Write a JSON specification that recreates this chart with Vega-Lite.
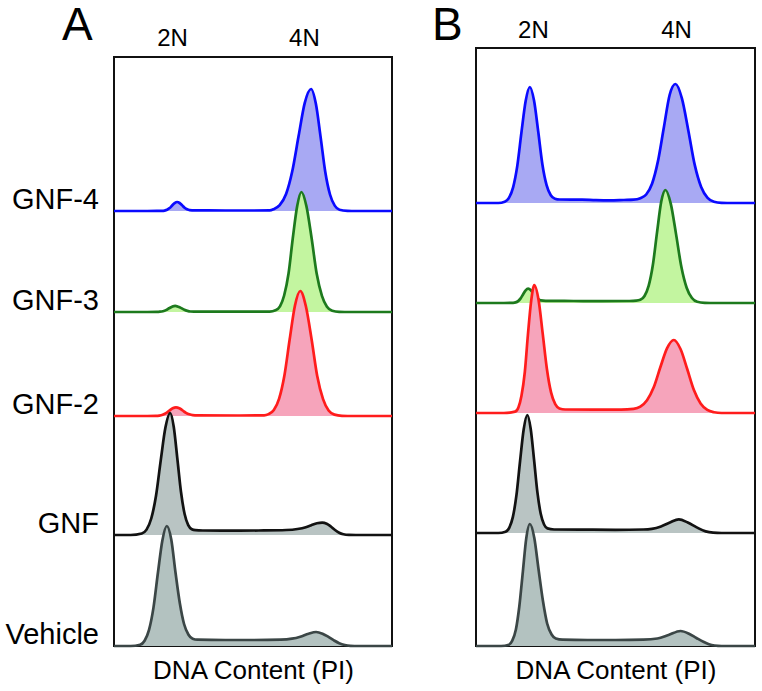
{
"$schema": "https://vega.github.io/schema/vega-lite/v6.json",
"background": "white",
"padding": {"left": 4, "top": 2, "right": 4, "bottom": 5},
"config": {"view": {"stroke": "#111111", "strokeWidth": 2}, "font": "Liberation Sans", "text": {"font": "Liberation Sans"}},
"datasets": {
"names": [{"s": "GNF-4"}, {"s": "GNF-3"}, {"s": "GNF-2"}, {"s": "GNF"}, {"s": "Vehicle"}],
"curves": [
{"p":"A","s":"GNF-4","x":0,"n":0},{"p":"A","s":"GNF-4","x":120,"n":0},{"p":"A","s":"GNF-4","x":173,"n":0.1},{"p":"A","s":"GNF-4","x":182,"n":0.4},{"p":"A","s":"GNF-4","x":191,"n":1.2},{"p":"A","s":"GNF-4","x":200,"n":2.9},{"p":"A","s":"GNF-4","x":209,"n":5.5},{"p":"A","s":"GNF-4","x":218,"n":7.9},{"p":"A","s":"GNF-4","x":227,"n":9},{"p":"A","s":"GNF-4","x":236,"n":8},{"p":"A","s":"GNF-4","x":245,"n":5.7},{"p":"A","s":"GNF-4","x":254,"n":3.3},{"p":"A","s":"GNF-4","x":263,"n":1.7},{"p":"A","s":"GNF-4","x":272,"n":0.9},{"p":"A","s":"GNF-4","x":290,"n":0.6},{"p":"A","s":"GNF-4","x":400,"n":0.5},{"p":"A","s":"GNF-4","x":500,"n":0.5},{"p":"A","s":"GNF-4","x":560,"n":0.6},{"p":"A","s":"GNF-4","x":574,"n":1.8},{"p":"A","s":"GNF-4","x":596,"n":5.9},{"p":"A","s":"GNF-4","x":619,"n":17},{"p":"A","s":"GNF-4","x":641,"n":39.5},{"p":"A","s":"GNF-4","x":664,"n":74.9},{"p":"A","s":"GNF-4","x":686,"n":107.9},{"p":"A","s":"GNF-4","x":709,"n":122},{"p":"A","s":"GNF-4","x":726,"n":107.4},{"p":"A","s":"GNF-4","x":743,"n":74.4},{"p":"A","s":"GNF-4","x":760,"n":39},{"p":"A","s":"GNF-4","x":777,"n":16.5},{"p":"A","s":"GNF-4","x":794,"n":5.4},{"p":"A","s":"GNF-4","x":811,"n":1.3},{"p":"A","s":"GNF-4","x":840,"n":0.2},{"p":"A","s":"GNF-4","x":870,"n":0},{"p":"A","s":"GNF-4","x":1000,"n":0},
{"p":"A","s":"GNF-3","x":0,"n":0},{"p":"A","s":"GNF-3","x":120,"n":0},{"p":"A","s":"GNF-3","x":154,"n":0.1},{"p":"A","s":"GNF-3","x":165,"n":0.3},{"p":"A","s":"GNF-3","x":176,"n":0.8},{"p":"A","s":"GNF-3","x":187,"n":1.9},{"p":"A","s":"GNF-3","x":198,"n":3.7},{"p":"A","s":"GNF-3","x":209,"n":5.3},{"p":"A","s":"GNF-3","x":220,"n":6.2},{"p":"A","s":"GNF-3","x":231,"n":5.3},{"p":"A","s":"GNF-3","x":242,"n":3.9},{"p":"A","s":"GNF-3","x":253,"n":2.2},{"p":"A","s":"GNF-3","x":264,"n":1.1},{"p":"A","s":"GNF-3","x":275,"n":0.5},{"p":"A","s":"GNF-3","x":300,"n":0.3},{"p":"A","s":"GNF-3","x":450,"n":0.3},{"p":"A","s":"GNF-3","x":560,"n":0.4},{"p":"A","s":"GNF-3","x":581,"n":1.7},{"p":"A","s":"GNF-3","x":597,"n":5.6},{"p":"A","s":"GNF-3","x":612,"n":16.5},{"p":"A","s":"GNF-3","x":628,"n":38.7},{"p":"A","s":"GNF-3","x":643,"n":73.5},{"p":"A","s":"GNF-3","x":659,"n":106},{"p":"A","s":"GNF-3","x":674,"n":120},{"p":"A","s":"GNF-3","x":692,"n":106},{"p":"A","s":"GNF-3","x":711,"n":73.5},{"p":"A","s":"GNF-3","x":729,"n":38.4},{"p":"A","s":"GNF-3","x":748,"n":16.2},{"p":"A","s":"GNF-3","x":766,"n":5.3},{"p":"A","s":"GNF-3","x":785,"n":1.3},{"p":"A","s":"GNF-3","x":810,"n":0.2},{"p":"A","s":"GNF-3","x":850,"n":0},{"p":"A","s":"GNF-3","x":1000,"n":0},
{"p":"A","s":"GNF-2","x":0,"n":0},{"p":"A","s":"GNF-2","x":120,"n":0},{"p":"A","s":"GNF-2","x":151,"n":0.1},{"p":"A","s":"GNF-2","x":163,"n":0.4},{"p":"A","s":"GNF-2","x":175,"n":1.2},{"p":"A","s":"GNF-2","x":187,"n":2.8},{"p":"A","s":"GNF-2","x":199,"n":5.3},{"p":"A","s":"GNF-2","x":211,"n":7.7},{"p":"A","s":"GNF-2","x":223,"n":8.7},{"p":"A","s":"GNF-2","x":235,"n":7.8},{"p":"A","s":"GNF-2","x":247,"n":5.5},{"p":"A","s":"GNF-2","x":259,"n":3.2},{"p":"A","s":"GNF-2","x":271,"n":1.7},{"p":"A","s":"GNF-2","x":283,"n":0.9},{"p":"A","s":"GNF-2","x":300,"n":0.6},{"p":"A","s":"GNF-2","x":450,"n":0.5},{"p":"A","s":"GNF-2","x":540,"n":0.6},{"p":"A","s":"GNF-2","x":556,"n":1.9},{"p":"A","s":"GNF-2","x":575,"n":6},{"p":"A","s":"GNF-2","x":594,"n":17.4},{"p":"A","s":"GNF-2","x":613,"n":40.5},{"p":"A","s":"GNF-2","x":632,"n":76.7},{"p":"A","s":"GNF-2","x":651,"n":110.5},{"p":"A","s":"GNF-2","x":670,"n":125},{"p":"A","s":"GNF-2","x":690,"n":110},{"p":"A","s":"GNF-2","x":711,"n":76.3},{"p":"A","s":"GNF-2","x":731,"n":40},{"p":"A","s":"GNF-2","x":752,"n":16.9},{"p":"A","s":"GNF-2","x":772,"n":5.5},{"p":"A","s":"GNF-2","x":793,"n":1.4},{"p":"A","s":"GNF-2","x":820,"n":0.2},{"p":"A","s":"GNF-2","x":860,"n":0},{"p":"A","s":"GNF-2","x":1000,"n":0},
{"p":"A","s":"GNF","x":0,"n":0},{"p":"A","s":"GNF","x":60,"n":0},{"p":"A","s":"GNF","x":100,"n":1.5},{"p":"A","s":"GNF","x":117,"n":5.4},{"p":"A","s":"GNF","x":134,"n":16.5},{"p":"A","s":"GNF","x":151,"n":39},{"p":"A","s":"GNF","x":168,"n":74.4},{"p":"A","s":"GNF","x":185,"n":107.4},{"p":"A","s":"GNF","x":202,"n":122},{"p":"A","s":"GNF","x":215,"n":108},{"p":"A","s":"GNF","x":228,"n":76},{"p":"A","s":"GNF","x":241,"n":43},{"p":"A","s":"GNF","x":254,"n":21},{"p":"A","s":"GNF","x":267,"n":9.9},{"p":"A","s":"GNF","x":280,"n":5.8},{"p":"A","s":"GNF","x":293,"n":4.8},{"p":"A","s":"GNF","x":320,"n":4.5},{"p":"A","s":"GNF","x":420,"n":4.3},{"p":"A","s":"GNF","x":520,"n":4.5},{"p":"A","s":"GNF","x":620,"n":5},{"p":"A","s":"GNF","x":660,"n":6},{"p":"A","s":"GNF","x":690,"n":7.8},{"p":"A","s":"GNF","x":710,"n":9.8},{"p":"A","s":"GNF","x":730,"n":11.7},{"p":"A","s":"GNF","x":749,"n":12.4},{"p":"A","s":"GNF","x":765,"n":11.3},{"p":"A","s":"GNF","x":780,"n":8.5},{"p":"A","s":"GNF","x":795,"n":5},{"p":"A","s":"GNF","x":810,"n":2.3},{"p":"A","s":"GNF","x":825,"n":0.8},{"p":"A","s":"GNF","x":845,"n":0.1},{"p":"A","s":"GNF","x":870,"n":0},{"p":"A","s":"GNF","x":1000,"n":0},
{"p":"A","s":"Vehicle","x":0,"n":0},{"p":"A","s":"Vehicle","x":60,"n":0},{"p":"A","s":"Vehicle","x":94,"n":1.3},{"p":"A","s":"Vehicle","x":110,"n":5.3},{"p":"A","s":"Vehicle","x":126,"n":16.2},{"p":"A","s":"Vehicle","x":142,"n":38.4},{"p":"A","s":"Vehicle","x":158,"n":73.2},{"p":"A","s":"Vehicle","x":174,"n":105.6},{"p":"A","s":"Vehicle","x":190,"n":120},{"p":"A","s":"Vehicle","x":206,"n":106.5},{"p":"A","s":"Vehicle","x":221,"n":74},{"p":"A","s":"Vehicle","x":237,"n":42.5},{"p":"A","s":"Vehicle","x":252,"n":22},{"p":"A","s":"Vehicle","x":268,"n":11.3},{"p":"A","s":"Vehicle","x":283,"n":7.3},{"p":"A","s":"Vehicle","x":300,"n":6.3},{"p":"A","s":"Vehicle","x":400,"n":6},{"p":"A","s":"Vehicle","x":500,"n":6},{"p":"A","s":"Vehicle","x":600,"n":6.3},{"p":"A","s":"Vehicle","x":640,"n":7.3},{"p":"A","s":"Vehicle","x":670,"n":9.3},{"p":"A","s":"Vehicle","x":700,"n":12.3},{"p":"A","s":"Vehicle","x":727,"n":14},{"p":"A","s":"Vehicle","x":750,"n":12.3},{"p":"A","s":"Vehicle","x":770,"n":9.3},{"p":"A","s":"Vehicle","x":790,"n":5.8},{"p":"A","s":"Vehicle","x":810,"n":2.8},{"p":"A","s":"Vehicle","x":830,"n":1},{"p":"A","s":"Vehicle","x":850,"n":0.2},{"p":"A","s":"Vehicle","x":880,"n":0},{"p":"A","s":"Vehicle","x":1000,"n":0},
{"p":"B","s":"GNF-4","x":0,"n":0},{"p":"B","s":"GNF-4","x":80,"n":0},{"p":"B","s":"GNF-4","x":103,"n":1.3},{"p":"B","s":"GNF-4","x":118,"n":5.1},{"p":"B","s":"GNF-4","x":133,"n":15.7},{"p":"B","s":"GNF-4","x":148,"n":37.1},{"p":"B","s":"GNF-4","x":163,"n":70.8},{"p":"B","s":"GNF-4","x":178,"n":102},{"p":"B","s":"GNF-4","x":193,"n":116},{"p":"B","s":"GNF-4","x":208,"n":102.4},{"p":"B","s":"GNF-4","x":223,"n":71.5},{"p":"B","s":"GNF-4","x":238,"n":38.5},{"p":"B","s":"GNF-4","x":253,"n":17.8},{"p":"B","s":"GNF-4","x":268,"n":7.7},{"p":"B","s":"GNF-4","x":283,"n":4.3},{"p":"B","s":"GNF-4","x":300,"n":3.5},{"p":"B","s":"GNF-4","x":380,"n":3.3},{"p":"B","s":"GNF-4","x":430,"n":2.8},{"p":"B","s":"GNF-4","x":480,"n":2.6},{"p":"B","s":"GNF-4","x":530,"n":3},{"p":"B","s":"GNF-4","x":565,"n":3.3},{"p":"B","s":"GNF-4","x":589,"n":4.8},{"p":"B","s":"GNF-4","x":610,"n":8.5},{"p":"B","s":"GNF-4","x":631,"n":19.3},{"p":"B","s":"GNF-4","x":652,"n":41.6},{"p":"B","s":"GNF-4","x":673,"n":75},{"p":"B","s":"GNF-4","x":694,"n":108},{"p":"B","s":"GNF-4","x":715,"n":119},{"p":"B","s":"GNF-4","x":738,"n":104.7},{"p":"B","s":"GNF-4","x":761,"n":72.6},{"p":"B","s":"GNF-4","x":784,"n":38.1},{"p":"B","s":"GNF-4","x":807,"n":16.1},{"p":"B","s":"GNF-4","x":830,"n":5.2},{"p":"B","s":"GNF-4","x":853,"n":1.3},{"p":"B","s":"GNF-4","x":880,"n":0.2},{"p":"B","s":"GNF-4","x":920,"n":0},{"p":"B","s":"GNF-4","x":1000,"n":0},
{"p":"B","s":"GNF-3","x":0,"n":0},{"p":"B","s":"GNF-3","x":100,"n":0},{"p":"B","s":"GNF-3","x":133,"n":0.2},{"p":"B","s":"GNF-3","x":142,"n":0.6},{"p":"B","s":"GNF-3","x":151,"n":1.9},{"p":"B","s":"GNF-3","x":160,"n":4.6},{"p":"B","s":"GNF-3","x":169,"n":8.8},{"p":"B","s":"GNF-3","x":178,"n":12.7},{"p":"B","s":"GNF-3","x":187,"n":14.4},{"p":"B","s":"GNF-3","x":196,"n":13},{"p":"B","s":"GNF-3","x":205,"n":9.6},{"p":"B","s":"GNF-3","x":214,"n":6.2},{"p":"B","s":"GNF-3","x":223,"n":3.9},{"p":"B","s":"GNF-3","x":232,"n":2.6},{"p":"B","s":"GNF-3","x":250,"n":2.2},{"p":"B","s":"GNF-3","x":350,"n":2},{"p":"B","s":"GNF-3","x":450,"n":1.8},{"p":"B","s":"GNF-3","x":550,"n":2},{"p":"B","s":"GNF-3","x":574,"n":2.3},{"p":"B","s":"GNF-3","x":589,"n":3.2},{"p":"B","s":"GNF-3","x":604,"n":7},{"p":"B","s":"GNF-3","x":619,"n":17.3},{"p":"B","s":"GNF-3","x":634,"n":38.2},{"p":"B","s":"GNF-3","x":649,"n":70.9},{"p":"B","s":"GNF-3","x":664,"n":101.4},{"p":"B","s":"GNF-3","x":679,"n":113},{"p":"B","s":"GNF-3","x":698,"n":99.4},{"p":"B","s":"GNF-3","x":717,"n":68.9},{"p":"B","s":"GNF-3","x":736,"n":36.2},{"p":"B","s":"GNF-3","x":755,"n":15.3},{"p":"B","s":"GNF-3","x":774,"n":5},{"p":"B","s":"GNF-3","x":793,"n":1.2},{"p":"B","s":"GNF-3","x":820,"n":0.2},{"p":"B","s":"GNF-3","x":860,"n":0},{"p":"B","s":"GNF-3","x":1000,"n":0},
{"p":"B","s":"GNF-2","x":0,"n":0},{"p":"B","s":"GNF-2","x":100,"n":0},{"p":"B","s":"GNF-2","x":140,"n":1.4},{"p":"B","s":"GNF-2","x":152,"n":5.6},{"p":"B","s":"GNF-2","x":163,"n":17.3},{"p":"B","s":"GNF-2","x":175,"n":41},{"p":"B","s":"GNF-2","x":186,"n":78},{"p":"B","s":"GNF-2","x":198,"n":112.6},{"p":"B","s":"GNF-2","x":209,"n":128},{"p":"B","s":"GNF-2","x":224,"n":113.4},{"p":"B","s":"GNF-2","x":239,"n":79.6},{"p":"B","s":"GNF-2","x":254,"n":44.3},{"p":"B","s":"GNF-2","x":269,"n":20.6},{"p":"B","s":"GNF-2","x":284,"n":8.9},{"p":"B","s":"GNF-2","x":299,"n":4.6},{"p":"B","s":"GNF-2","x":320,"n":3.5},{"p":"B","s":"GNF-2","x":420,"n":3.3},{"p":"B","s":"GNF-2","x":520,"n":3.3},{"p":"B","s":"GNF-2","x":565,"n":4.1},{"p":"B","s":"GNF-2","x":589,"n":6.4},{"p":"B","s":"GNF-2","x":613,"n":12.8},{"p":"B","s":"GNF-2","x":637,"n":25.7},{"p":"B","s":"GNF-2","x":661,"n":46},{"p":"B","s":"GNF-2","x":685,"n":64.9},{"p":"B","s":"GNF-2","x":709,"n":73},{"p":"B","s":"GNF-2","x":733,"n":64},{"p":"B","s":"GNF-2","x":757,"n":44},{"p":"B","s":"GNF-2","x":781,"n":23},{"p":"B","s":"GNF-2","x":805,"n":9.6},{"p":"B","s":"GNF-2","x":829,"n":3.1},{"p":"B","s":"GNF-2","x":853,"n":0.8},{"p":"B","s":"GNF-2","x":880,"n":0},{"p":"B","s":"GNF-2","x":1000,"n":0},
{"p":"B","s":"GNF","x":0,"n":0},{"p":"B","s":"GNF","x":80,"n":0},{"p":"B","s":"GNF","x":106,"n":1.3},{"p":"B","s":"GNF","x":119,"n":5.2},{"p":"B","s":"GNF","x":132,"n":15.9},{"p":"B","s":"GNF","x":145,"n":37.8},{"p":"B","s":"GNF","x":158,"n":72},{"p":"B","s":"GNF","x":171,"n":103.8},{"p":"B","s":"GNF","x":184,"n":118},{"p":"B","s":"GNF","x":196,"n":104.3},{"p":"B","s":"GNF","x":208,"n":73.5},{"p":"B","s":"GNF","x":220,"n":40.8},{"p":"B","s":"GNF","x":232,"n":19.2},{"p":"B","s":"GNF","x":244,"n":8.5},{"p":"B","s":"GNF","x":256,"n":4.6},{"p":"B","s":"GNF","x":280,"n":3.5},{"p":"B","s":"GNF","x":400,"n":3.3},{"p":"B","s":"GNF","x":500,"n":3.2},{"p":"B","s":"GNF","x":600,"n":3.5},{"p":"B","s":"GNF","x":630,"n":4.2},{"p":"B","s":"GNF","x":663,"n":6.6},{"p":"B","s":"GNF","x":695,"n":10.5},{"p":"B","s":"GNF","x":727,"n":13.7},{"p":"B","s":"GNF","x":759,"n":10.5},{"p":"B","s":"GNF","x":791,"n":5.6},{"p":"B","s":"GNF","x":823,"n":1.6},{"p":"B","s":"GNF","x":850,"n":0.3},{"p":"B","s":"GNF","x":880,"n":0},{"p":"B","s":"GNF","x":1000,"n":0},
{"p":"B","s":"Vehicle","x":0,"n":0},{"p":"B","s":"Vehicle","x":90,"n":0},{"p":"B","s":"Vehicle","x":118,"n":1.3},{"p":"B","s":"Vehicle","x":130,"n":5.4},{"p":"B","s":"Vehicle","x":143,"n":16.5},{"p":"B","s":"Vehicle","x":155,"n":39},{"p":"B","s":"Vehicle","x":168,"n":74.4},{"p":"B","s":"Vehicle","x":180,"n":107.4},{"p":"B","s":"Vehicle","x":193,"n":122},{"p":"B","s":"Vehicle","x":209,"n":108},{"p":"B","s":"Vehicle","x":224,"n":77},{"p":"B","s":"Vehicle","x":240,"n":45},{"p":"B","s":"Vehicle","x":255,"n":22.5},{"p":"B","s":"Vehicle","x":271,"n":11.5},{"p":"B","s":"Vehicle","x":286,"n":7.5},{"p":"B","s":"Vehicle","x":310,"n":6.3},{"p":"B","s":"Vehicle","x":400,"n":6},{"p":"B","s":"Vehicle","x":500,"n":6},{"p":"B","s":"Vehicle","x":600,"n":6.3},{"p":"B","s":"Vehicle","x":650,"n":7.5},{"p":"B","s":"Vehicle","x":690,"n":11},{"p":"B","s":"Vehicle","x":733,"n":15},{"p":"B","s":"Vehicle","x":765,"n":12},{"p":"B","s":"Vehicle","x":790,"n":8},{"p":"B","s":"Vehicle","x":815,"n":4.2},{"p":"B","s":"Vehicle","x":835,"n":1.8},{"p":"B","s":"Vehicle","x":855,"n":0.5},{"p":"B","s":"Vehicle","x":880,"n":0},{"p":"B","s":"Vehicle","x":1000,"n":0}
]
},
"spacing": 32,
"hconcat": [
{
 "spacing": 0,
 "vconcat": [
  {
   "width": 278, "height": 8,
   "view": {"stroke": null},
   "title": {"text": "A", "anchor": "start", "frame": "group", "fontSize": 46, "fontWeight": "normal", "font": "Liberation Sans", "color": "#000000", "baseline": "alphabetic", "dx": -52, "dy": 60, "offset": 0},
   "data": {"values": []},
   "mark": {"type": "point", "opacity": 0},
   "encoding": {
    "x": {"field": "x", "type": "quantitative", "scale": {"domain": [0, 1000], "nice": false, "zero": false},
          "axis": {"orient": "top", "values": [209, 683], "labelExpr": "datum.value < 400 ? '2N' : '4N'", "ticks": false, "domain": false, "grid": false, "labelFontSize": 24, "labelFont": "Liberation Sans", "labelColor": "#000000", "labelPadding": -2, "labelFlush": false, "title": null}}
   }
  },
  {
   "width": 278, "height": 589,
   "data": {"name": "curves"},
   "resolve": {"scale": {"y": "independent"}, "axis": {"x": "independent"}},
   "layer": [
    {"transform": [{"filter": "datum.p == 'A' && datum.s == 'GNF-4'"}],
     "mark": {"type": "area", "fill": "#a8a9f3", "fillOpacity": 1, "interpolate": "monotone", "line": {"stroke": "#0a0aff", "strokeWidth": 2.7, "interpolate": "monotone"}},
     "encoding": {
      "x": {"field": "x", "type": "quantitative", "scale": {"domain": [0, 1000], "nice": false, "zero": false},
            "axis": {"orient": "bottom", "values": [], "ticks": false, "domain": false, "labels": false, "grid": false, "title": "DNA Content (PI)", "titleFontSize": 26, "titleFont": "Liberation Sans", "titleFontWeight": "normal", "titleColor": "#000000", "titlePadding": 11}},
      "y": {"field": "n", "type": "quantitative", "scale": {"domain": [-435, 154], "nice": false, "zero": false}, "axis": null}}},
    {"data": {"name": "names"}, "transform": [{"filter": "datum.s == 'GNF-4'"}],
     "mark": {"type": "text", "align": "right", "baseline": "alphabetic", "dx": -15, "dy": -2, "fontSize": 29, "font": "Liberation Sans", "color": "#000000"},
     "encoding": {"x": {"datum": 0, "axis": null}, "y": {"datum": 0, "scale": {"domain": [-435, 154], "nice": false, "zero": false}, "axis": null}, "text": {"field": "s"}}},
    {"transform": [{"filter": "datum.p == 'A' && datum.s == 'GNF-3'"}],
     "mark": {"type": "area", "fill": "#c3f5a0", "fillOpacity": 1, "interpolate": "monotone", "line": {"stroke": "#1d7a1d", "strokeWidth": 2.7, "interpolate": "monotone"}},
     "encoding": {
      "x": {"field": "x", "type": "quantitative", "scale": {"domain": [0, 1000], "nice": false, "zero": false}, "axis": null},
      "y": {"field": "n", "type": "quantitative", "scale": {"domain": [-334, 255], "nice": false, "zero": false}, "axis": null}}},
    {"data": {"name": "names"}, "transform": [{"filter": "datum.s == 'GNF-3'"}],
     "mark": {"type": "text", "align": "right", "baseline": "alphabetic", "dx": -15, "dy": -2, "fontSize": 29, "font": "Liberation Sans", "color": "#000000"},
     "encoding": {"x": {"datum": 0, "axis": null}, "y": {"datum": 0, "scale": {"domain": [-334, 255], "nice": false, "zero": false}, "axis": null}, "text": {"field": "s"}}},
    {"transform": [{"filter": "datum.p == 'A' && datum.s == 'GNF-2'"}],
     "mark": {"type": "area", "fill": "#f6a4bb", "fillOpacity": 1, "interpolate": "monotone", "line": {"stroke": "#ff1c1c", "strokeWidth": 2.7, "interpolate": "monotone"}},
     "encoding": {
      "x": {"field": "x", "type": "quantitative", "scale": {"domain": [0, 1000], "nice": false, "zero": false}, "axis": null},
      "y": {"field": "n", "type": "quantitative", "scale": {"domain": [-230, 359], "nice": false, "zero": false}, "axis": null}}},
    {"data": {"name": "names"}, "transform": [{"filter": "datum.s == 'GNF-2'"}],
     "mark": {"type": "text", "align": "right", "baseline": "alphabetic", "dx": -15, "dy": -2, "fontSize": 29, "font": "Liberation Sans", "color": "#000000"},
     "encoding": {"x": {"datum": 0, "axis": null}, "y": {"datum": 0, "scale": {"domain": [-230, 359], "nice": false, "zero": false}, "axis": null}, "text": {"field": "s"}}},
    {"transform": [{"filter": "datum.p == 'A' && datum.s == 'GNF'"}],
     "mark": {"type": "area", "fill": "#b9c4c3", "fillOpacity": 1, "interpolate": "monotone", "line": {"stroke": "#121212", "strokeWidth": 2.7, "interpolate": "monotone"}},
     "encoding": {
      "x": {"field": "x", "type": "quantitative", "scale": {"domain": [0, 1000], "nice": false, "zero": false}, "axis": null},
      "y": {"field": "n", "type": "quantitative", "scale": {"domain": [-111, 478], "nice": false, "zero": false}, "axis": null}}},
    {"data": {"name": "names"}, "transform": [{"filter": "datum.s == 'GNF'"}],
     "mark": {"type": "text", "align": "right", "baseline": "alphabetic", "dx": -15, "dy": -2, "fontSize": 29, "font": "Liberation Sans", "color": "#000000"},
     "encoding": {"x": {"datum": 0, "axis": null}, "y": {"datum": 0, "scale": {"domain": [-111, 478], "nice": false, "zero": false}, "axis": null}, "text": {"field": "s"}}},
    {"transform": [{"filter": "datum.p == 'A' && datum.s == 'Vehicle'"}],
     "mark": {"type": "area", "fill": "#b3c2c0", "fillOpacity": 1, "interpolate": "monotone", "line": {"stroke": "#3b4646", "strokeWidth": 2.7, "interpolate": "monotone"}},
     "encoding": {
      "x": {"field": "x", "type": "quantitative", "scale": {"domain": [0, 1000], "nice": false, "zero": false}, "axis": null},
      "y": {"field": "n", "type": "quantitative", "scale": {"domain": [0, 589], "nice": false, "zero": false}, "axis": null}}},
    {"data": {"name": "names"}, "transform": [{"filter": "datum.s == 'Vehicle'"}],
     "mark": {"type": "text", "align": "right", "baseline": "alphabetic", "dx": -15, "dy": -2, "fontSize": 29, "font": "Liberation Sans", "color": "#000000"},
     "encoding": {"x": {"datum": 0, "axis": null}, "y": {"datum": 0, "scale": {"domain": [0, 589], "nice": false, "zero": false}, "axis": null}, "text": {"field": "s"}}}
   ]
  }
 ]
},
{
 "width": 279, "height": 598,
 "title": {"text": "B", "anchor": "start", "frame": "group", "fontSize": 46, "fontWeight": "normal", "font": "Liberation Sans", "color": "#000000", "baseline": "alphabetic", "dx": -44, "dy": 68, "offset": 0},
 "data": {"name": "curves"},
 "resolve": {"scale": {"y": "independent"}, "axis": {"x": "independent"}},
 "layer": [
  {"transform": [{"filter": "datum.p == 'B' && datum.s == 'GNF-4'"}],
   "mark": {"type": "area", "fill": "#a8a9f3", "fillOpacity": 1, "interpolate": "monotone", "line": {"stroke": "#0a0aff", "strokeWidth": 2.7, "interpolate": "monotone"}},
   "encoding": {
    "x": {"field": "x", "type": "quantitative", "scale": {"domain": [0, 1000], "nice": false, "zero": false},
          "axis": {"orient": "top", "values": [204, 717], "labelExpr": "datum.value < 400 ? '2N' : '4N'", "ticks": false, "domain": false, "grid": false, "labelFontSize": 24, "labelFont": "Liberation Sans", "labelColor": "#000000", "labelPadding": 6, "labelFlush": false, "title": null}},
    "y": {"field": "n", "type": "quantitative", "scale": {"domain": [-443, 155], "nice": false, "zero": false}, "axis": null}}},
  {"transform": [{"filter": "datum.p == 'B' && datum.s == 'GNF-3'"}],
   "mark": {"type": "area", "fill": "#c3f5a0", "fillOpacity": 1, "interpolate": "monotone", "line": {"stroke": "#1d7a1d", "strokeWidth": 2.7, "interpolate": "monotone"}},
   "encoding": {
    "x": {"field": "x", "type": "quantitative", "scale": {"domain": [0, 1000], "nice": false, "zero": false},
          "axis": {"orient": "bottom", "values": [], "ticks": false, "domain": false, "labels": false, "grid": false, "title": "DNA Content (PI)", "titleFontSize": 26, "titleFont": "Liberation Sans", "titleFontWeight": "normal", "titleColor": "#000000", "titlePadding": 11}},
    "y": {"field": "n", "type": "quantitative", "scale": {"domain": [-343, 255], "nice": false, "zero": false}, "axis": null}}},
  {"transform": [{"filter": "datum.p == 'B' && datum.s == 'GNF-2'"}],
   "mark": {"type": "area", "fill": "#f6a4bb", "fillOpacity": 1, "interpolate": "monotone", "line": {"stroke": "#ff1c1c", "strokeWidth": 2.7, "interpolate": "monotone"}},
   "encoding": {
    "x": {"field": "x", "type": "quantitative", "scale": {"domain": [0, 1000], "nice": false, "zero": false}, "axis": null},
    "y": {"field": "n", "type": "quantitative", "scale": {"domain": [-233, 365], "nice": false, "zero": false}, "axis": null}}},
  {"transform": [{"filter": "datum.p == 'B' && datum.s == 'GNF'"}],
   "mark": {"type": "area", "fill": "#b9c4c3", "fillOpacity": 1, "interpolate": "monotone", "line": {"stroke": "#121212", "strokeWidth": 2.7, "interpolate": "monotone"}},
   "encoding": {
    "x": {"field": "x", "type": "quantitative", "scale": {"domain": [0, 1000], "nice": false, "zero": false}, "axis": null},
    "y": {"field": "n", "type": "quantitative", "scale": {"domain": [-113, 485], "nice": false, "zero": false}, "axis": null}}},
  {"transform": [{"filter": "datum.p == 'B' && datum.s == 'Vehicle'"}],
   "mark": {"type": "area", "fill": "#b3c2c0", "fillOpacity": 1, "interpolate": "monotone", "line": {"stroke": "#3b4646", "strokeWidth": 2.7, "interpolate": "monotone"}},
   "encoding": {
    "x": {"field": "x", "type": "quantitative", "scale": {"domain": [0, 1000], "nice": false, "zero": false}, "axis": null},
    "y": {"field": "n", "type": "quantitative", "scale": {"domain": [0, 598], "nice": false, "zero": false}, "axis": null}}}
 ]
}
]
}
